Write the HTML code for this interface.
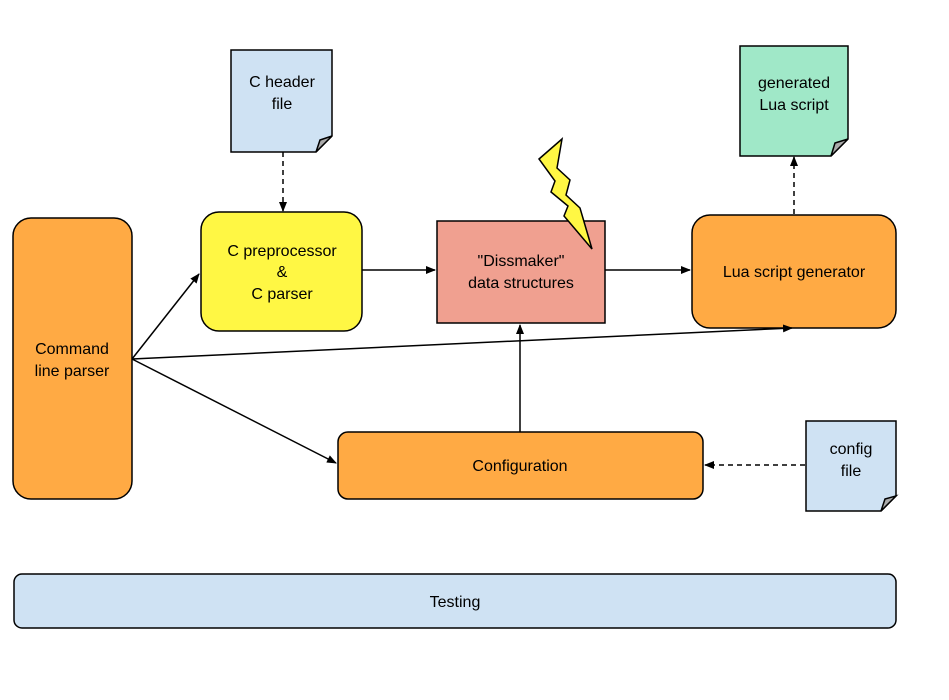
<!DOCTYPE html>
<html><head><style>body{margin:0;background:#fff}svg{display:block}</style></head><body>
<svg width="949" height="700" viewBox="0 0 949 700" xmlns="http://www.w3.org/2000/svg" font-family="Liberation Sans, sans-serif" font-size="16" text-anchor="middle">
<defs><marker id="a" markerWidth="10" markerHeight="8" refX="9" refY="4" orient="auto" markerUnits="userSpaceOnUse"><path d="M0,0 L10,4 L0,8 z" fill="#000"/></marker></defs>
<g stroke="#000" stroke-width="1.5">
<rect x="13" y="218" width="119" height="281" rx="18" fill="#ffaa44"/>
<rect x="201" y="212" width="161" height="119" rx="18" fill="#fff744"/>
<rect x="437" y="221" width="168" height="102" fill="#f0a090"/>
<rect x="692" y="215" width="204" height="113" rx="18" fill="#ffaa44"/>
<rect x="338" y="432" width="365" height="67" rx="10" fill="#ffaa44"/>
<rect x="14" y="574" width="882" height="54" rx="8" fill="#cfe2f3"/>
<path d="M231,50 H332 V136 L316,152 H231 Z" fill="#cfe2f3"/>
<path d="M316,152 L320,140 L332,136 Z" fill="#aaa"/>
<path d="M740,46 H848 V139 L831,156 H740 Z" fill="#a0e8c8"/>
<path d="M831,156 L835,143 L848,139 Z" fill="#aaa"/>
<path d="M806,421 H896 V496 L881,511 H806 Z" fill="#cfe2f3"/>
<path d="M881,511 L885,499 L896,496 Z" fill="#aaa"/>
<path d="M539,159 L562,139 L557,168 L570,180 L566,195 L580,208 L592,249 L564,216 L568,206 L551,192 L555,181 Z" fill="#fff744"/>
</g>
<g stroke="#000" stroke-width="1.5" fill="none" marker-end="url(#a)">
<path d="M283,152 V211" stroke-dasharray="5,4"/>
<path d="M794,214 V157" stroke-dasharray="5,4"/>
<path d="M805,465 H705" stroke-dasharray="5,4"/>
<path d="M362,270 H435"/>
<path d="M605,270 H690"/>
<path d="M132,359 L199,274"/>
<path d="M132,359 L792,328"/>
<path d="M132,359 L336,463"/>
<path d="M520,432 V325"/>
</g>
<text x="72" y="354">Command</text><text x="72" y="376">line parser</text>
<text x="282" y="256">C preprocessor</text><text x="282" y="277">&amp;</text><text x="282" y="299">C parser</text>
<text x="521" y="266">"Dissmaker"</text><text x="521" y="288">data structures</text>
<text x="794" y="277">Lua script generator</text>
<text x="520" y="471">Configuration</text>
<text x="455" y="607">Testing</text>
<text x="282" y="87">C header</text><text x="282" y="109">file</text>
<text x="794" y="88">generated</text><text x="794" y="110">Lua script</text>
<text x="851" y="454">config</text><text x="851" y="476">file</text>
</svg>
</body></html>
